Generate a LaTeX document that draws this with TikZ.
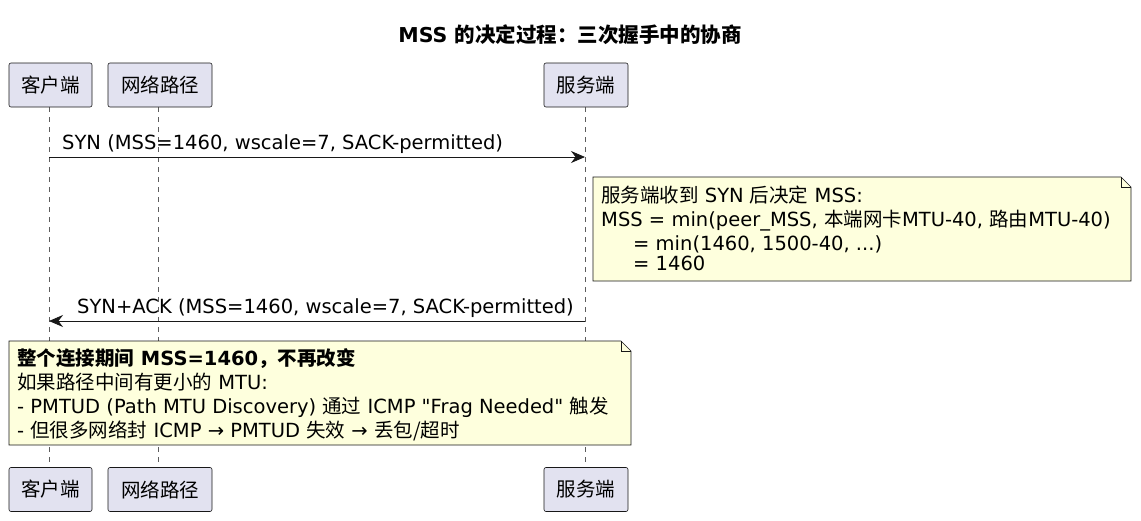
\documentclass[tikz,border=0pt]{standalone}
\usepackage{fontspec}
\setmainfont{DejaVu Sans}
\newfontfamily\cjk{Noto Sans CJK SC}
\newfontfamily\plainq{DejaVu Sans}
\usetikzlibrary{arrows.meta}
\definecolor{pfill}{HTML}{E2E2F0}
\definecolor{nfill}{HTML}{FEFFDD}
\definecolor{bord}{HTML}{181818}
\newcommand{\zh}[1]{{\cjk #1}}
\newcommand{\dq}{{\plainq "}}
\begin{document}
\begin{tikzpicture}[x=1pt,y=-1pt,
  part/.style={draw=bord,fill=pfill,rounded corners=2pt,line width=0.6pt,minimum height=44pt,inner xsep=6pt,font=\fontsize{19.5}{22}\selectfont,anchor=center},
  life/.style={draw=bord!70,dash pattern=on 5pt off 5pt,line width=0.5pt},
  msg/.style={draw=bord,line width=0.8pt,-{Stealth[length=14pt,width=12pt]}},
  lab/.style={font=\fontsize{19.5}{22}\selectfont,anchor=base west,inner sep=0pt},
  ntxt/.style={font=\fontsize{19.5}{22}\selectfont,anchor=base west,inner sep=0pt}]
\useasboundingbox (0,0) rectangle (1141,520);
\node[font=\bfseries\fontsize{20.5}{22}\selectfont] (title) at (570,35) {MSS \zh{\bfseries 的决定过程：三次握手中的协商}};
% lifelines
\coordinate (c1) at (49,107); \coordinate (c2) at (49,467);
\coordinate (n1) at (158,107); \coordinate (n2) at (158,467);
\coordinate (s1) at (585,107); \coordinate (s2) at (585,467);
\draw[life] (c1) -- (c2); \draw[life] (n1) -- (n2); \draw[life] (s1) -- (s2);
% participants
\node[part,minimum width=83pt] (ct) at (50.5,85) {\zh{客户端}};
\node[part,minimum width=104pt] (nt) at (160,85) {\zh{网络路径}};
\node[part,minimum width=84pt] (st) at (586,85) {\zh{服务端}};
\node[part,minimum width=83pt] (cb) at (50.5,489.5) {\zh{客户端}};
\node[part,minimum width=104pt] (nb) at (160,489.5) {\zh{网络路径}};
\node[part,minimum width=84pt] (sb) at (586,489.5) {\zh{服务端}};
% message 1
\coordinate (m1a) at (49,157); \coordinate (m1b) at (585,157);
\draw[msg] (m1a) -- (m1b);
\node[lab] (l1) at (62,149) {SYN (MSS=1460, wscale=7, SACK-permitted)};
% note 1
\draw[draw=bord,fill=nfill,line width=0.6pt] (593,177) -- (1121,177) -- (1131,187) -- (1131,281) -- (593,281) -- cycle;
\draw[draw=bord,line width=0.6pt] (1121,177) -- (1121,187) -- (1131,187);
\node[ntxt] (a1) at (601,202) {\zh{服务端收到} SYN \zh{后决定} MSS:};
\node[ntxt] (a2) at (601,226) {MSS = min(peer\_MSS, \zh{本端网卡}MTU-40, \zh{路由}MTU-40)};
\node[ntxt] (a3) at (633,250) {= min(1460, 1500-40, ...)};
\node[ntxt] (a4) at (633,270) {= 1460};
% message 2
\coordinate (m2a) at (585,321); \coordinate (m2b) at (49,321);
\draw[msg] (m2a) -- (m2b);
\node[lab] (l2) at (77,313) {SYN+ACK (MSS=1460, wscale=7, SACK-permitted)};
% note 2
\draw[draw=bord,fill=nfill,line width=0.6pt] (9,341) -- (621,341) -- (631,351) -- (631,445) -- (9,445) -- cycle;
\draw[draw=bord,line width=0.6pt] (621,341) -- (621,351) -- (631,351);
\node[ntxt,font=\bfseries\fontsize{19.5}{22}\selectfont] (b1) at (17,365) {\zh{\bfseries 整个连接期间} MSS=1460\zh{\bfseries ，不再改变}};
\node[ntxt] (b2) at (17,389) {\zh{如果路径中间有更小的} MTU:};
\node[ntxt] (b3) at (17,413) {- PMTUD (Path MTU Discovery) \zh{通过} ICMP \dq Frag Needed\dq{} \zh{触发}};
\node[ntxt] (b4) at (17,437) {- \zh{但很多网络封} ICMP → PMTUD \zh{失效} → \zh{丢包/超时}};
\end{tikzpicture}
\end{document}
